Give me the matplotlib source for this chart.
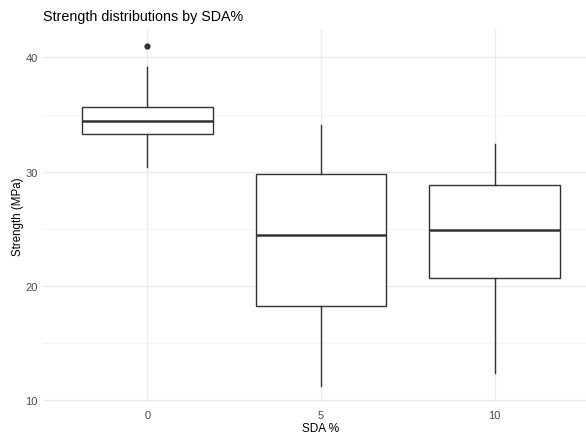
import matplotlib.pyplot as plt
from matplotlib.ticker import MultipleLocator

plt.rcParams['font.family'] = ['Liberation Sans', 'DejaVu Sans']

# values
sda_levels = ["0", "5", "10"]
whisker_low = [30.4, 11.3, 12.4]
q1 = [33.3, 18.3, 20.7]
median = [34.4, 24.5, 24.9]
q3 = [35.7, 29.8, 28.8]
whisker_high = [39.2, 34.1, 32.4]
outliers = [[41.0], [], []]

stats = []
for i, lvl in enumerate(sda_levels):
    stats.append({
        "label": lvl,
        "whislo": whisker_low[i],
        "q1": q1[i],
        "med": median[i],
        "q3": q3[i],
        "whishi": whisker_high[i],
        "fliers": outliers[i],
    })

fig = plt.figure(figsize=(5.86, 4.35), dpi=100)
ax = fig.add_axes([43.3 / 586, 1 - 403 / 435, 555.4 / 586, (403 - 30.5) / 435])

pos = [1, 2, 3]
line_col = "#333333"
ax.bxp(stats, positions=pos, widths=0.75, showcaps=False, patch_artist=True,
       boxprops=dict(facecolor="white", edgecolor=line_col, linewidth=1.0),
       whiskerprops=dict(color=line_col, linewidth=1.0),
       medianprops=dict(color=line_col, linewidth=1.8),
       flierprops=dict(marker="o", markerfacecolor=line_col, markeredgecolor=line_col,
                       markersize=3.5),
       zorder=3)

ax.set_xlim(0.4, 3.6)
ax.set_ylim(9.86, 42.44)
ax.set_xticks(pos)
ax.set_xticklabels(sda_levels)
ax.yaxis.set_major_locator(MultipleLocator(10))
ax.yaxis.set_minor_locator(MultipleLocator(5))

ax.grid(True, which="major", color="#EBEBEB", linewidth=1.0, zorder=0)
ax.grid(True, which="minor", axis="y", color="#F2F2F2", linewidth=0.6, zorder=0)
ax.set_axisbelow(True)
for s in ax.spines.values():
    s.set_visible(False)
ax.tick_params(which="both", length=0, labelsize=8, labelcolor="#4D4D4D")
ax.tick_params(axis="x", pad=6)
ax.tick_params(axis="y", pad=4)

ax.set_xlabel("SDA %", fontsize=8.5, labelpad=1)
ax.set_ylabel("Strength (MPa)", fontsize=8.3)
ax.yaxis.set_label_coords(-0.035, 0.5)
fig.text(43.3 / 586, 1 - 17 / 435, "Strength distributions by SDA%", fontsize=10.3,
         va="center", ha="left")

fig.savefig("out.png", dpi=100)
